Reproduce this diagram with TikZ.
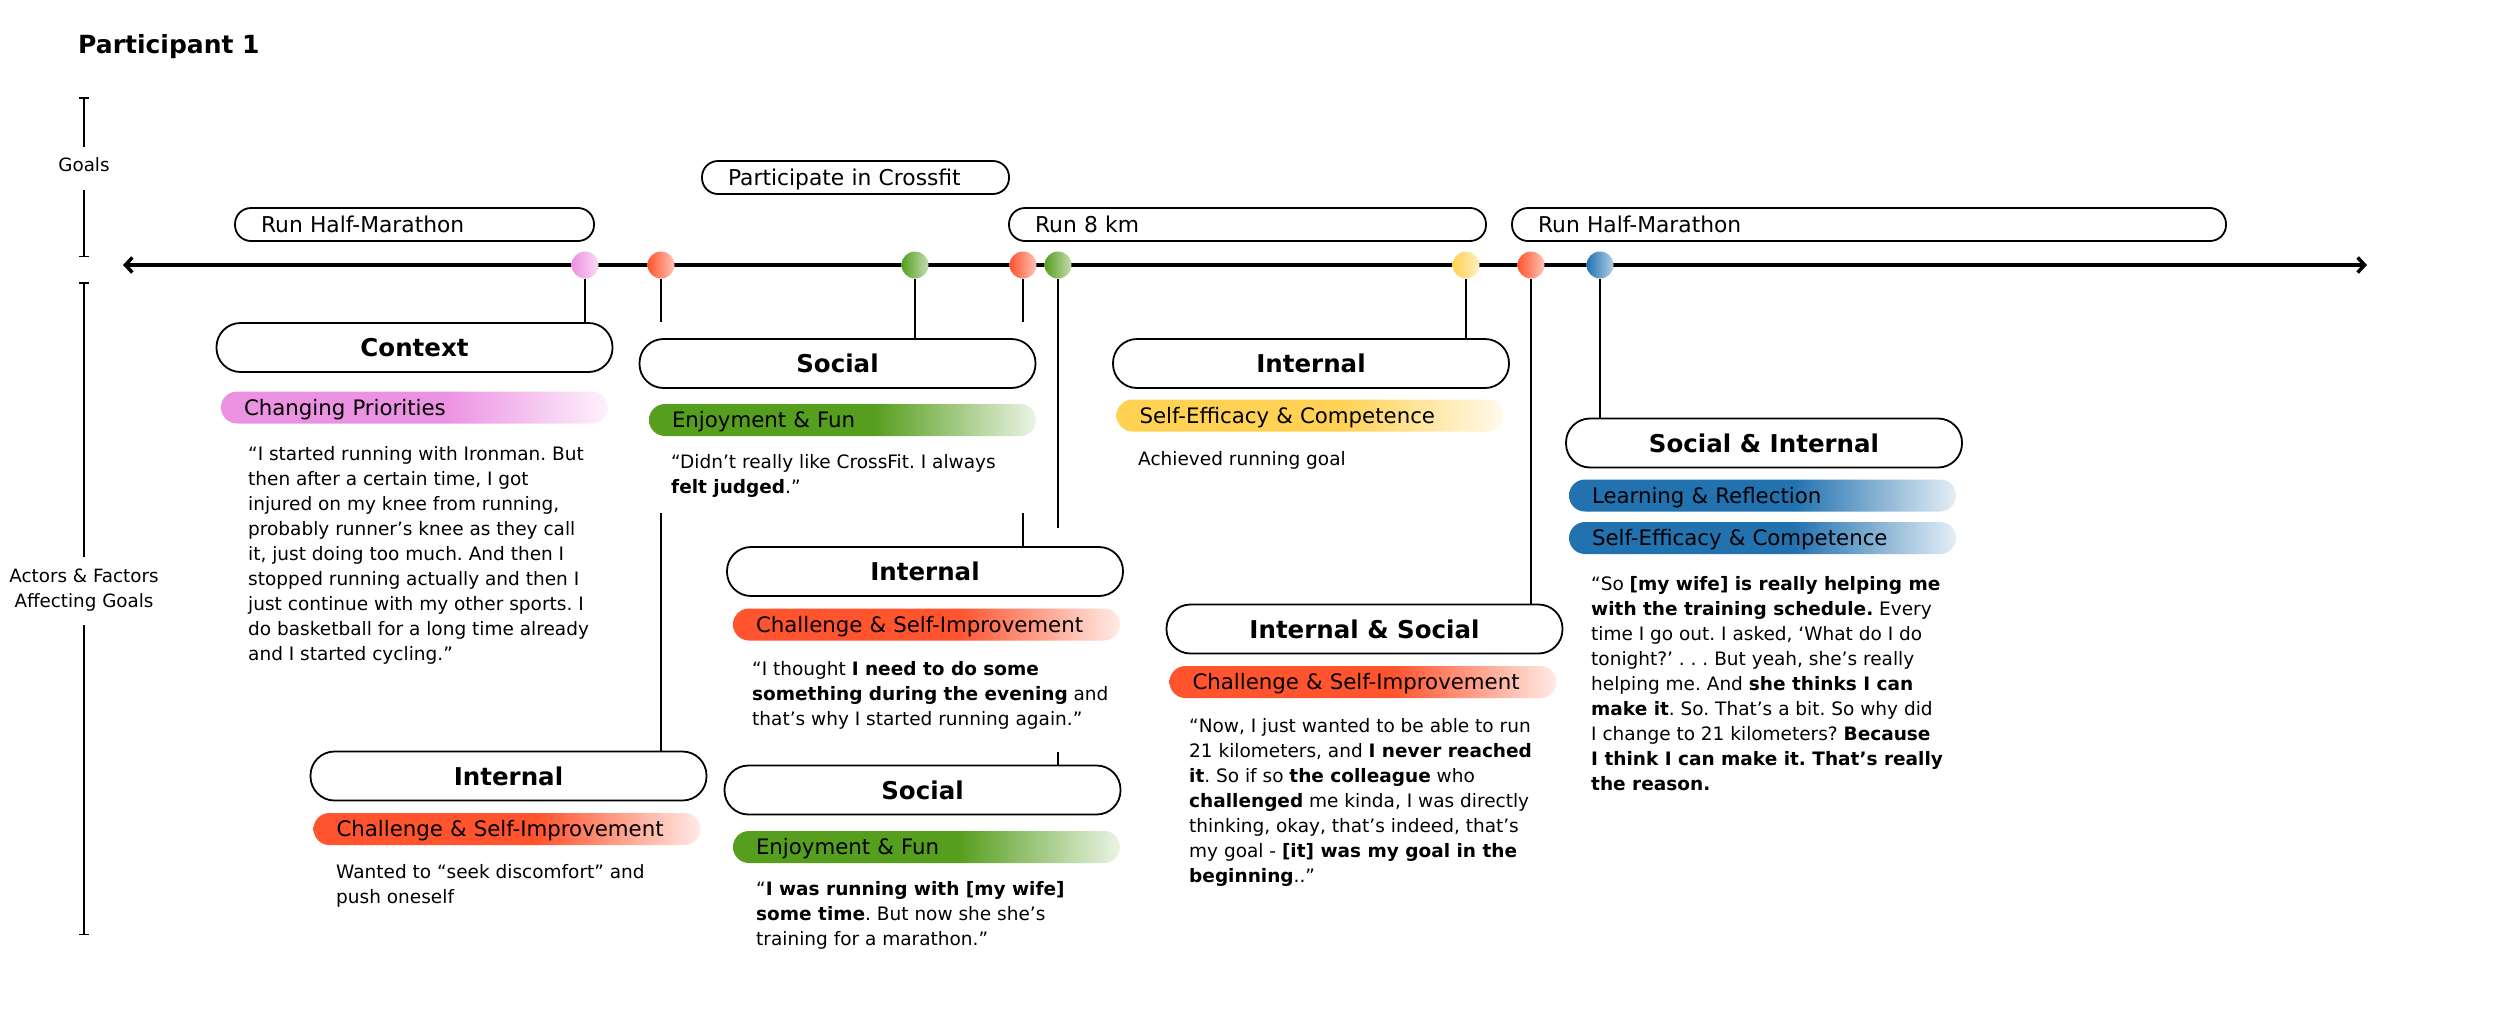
\documentclass[tikz,border=0pt]{standalone}
\usepackage{fontspec}
\setmainfont{DejaVu Sans}
\usetikzlibrary{arrows.meta}
\frenchspacing

\definecolor{pinkc}{RGB}{236,146,226}
\definecolor{redc}{RGB}{255,84,46}
\definecolor{greenc}{RGB}{86,158,30}
\definecolor{yellowc}{RGB}{255,210,84}
\definecolor{bluec}{RGB}{34,114,176}
\colorlet{barcol}{redc}
\pgfdeclarehorizontalshading[barcol]{barfade}{100bp}{color(0bp)=(barcol); color(25bp)=(barcol); color(54bp)=(barcol); color(75bp)=(barcol!12!white); color(100bp)=(barcol!12!white)}

\newcommand{\titlefont}{\fontsize{25}{30}\selectfont\bfseries}
\newcommand{\catfont}{\fontsize{24.5}{30}\selectfont\bfseries}
\newcommand{\goalfont}{\fontsize{21.8}{26}\selectfont}
\newcommand{\barfont}{\fontsize{21.3}{26}\selectfont}
\newcommand{\quotefont}{\fontsize{18.5}{25}\selectfont}
\newcommand{\axisfont}{\fontsize{18.3}{25}\selectfont}
\newcommand{\qtext}[1]{\parbox[t]{430pt}{\quotefont\frenchspacing\raggedright #1}}

\tikzset{goalbox/.style={draw, line width=1.8pt, rounded corners=16pt, minimum height=33pt, inner xsep=26pt, inner ysep=0pt, text width=#1, align=left, text height=16pt, text depth=0pt, font=\goalfont}}
\tikzset{catbox/.style={draw, line width=1.8pt, fill=white, rounded corners=24pt, minimum width=396pt, minimum height=49pt, inner sep=0pt, text height=18pt, text depth=0pt, font=\catfont}}
\tikzset{tagbar/.style={/utils/exec={\colorlet{barcol}{#1}}, shading=barfade, rounded corners=16pt, minimum height=32pt, inner xsep=23pt, inner ysep=0pt, text width=341pt, align=left, text height=15.5pt, text depth=0pt, font=\barfont}}
\tikzset{evt/.style={circle, minimum size=27pt, inner sep=0pt, left color=#1, right color=#1!35!white}}
\tikzset{stem/.style={line width=1.8pt}}
\tikzset{quotetxt/.style={anchor=base west, inner sep=0pt}}
\tikzset{axisline/.style={line width=1.5pt}}

\begin{document}
\begin{tikzpicture}[x=1pt, y=-1pt]

\path[use as bounding box, fill=white] (0,0) rectangle (2500,1020);

\node[anchor=base west, inner sep=0pt, font=\titlefont] (title) at (78,53) {Participant 1};

% left axis
\draw[axisline, {Bar[width=10pt]}-] (84,97) -- (84,147);
\node[anchor=base, inner sep=0pt, font=\axisfont] (goals) at (84,171) {Goals};
\draw[axisline, -{Bar[width=10pt]}] (84,190) -- (84,257);
\draw[axisline, {Bar[width=10pt]}-] (84,282) -- (84,557);
\node[anchor=base, inner sep=0pt] (actors) at (84,582) {\parbox[t]{200pt}{\centering\axisfont Actors \& Factors\\Affecting Goals}};
\draw[axisline, -{Bar[width=10pt]}] (84,625) -- (84,935);

% goals
\node[goalbox=307pt] (goal1) at (414.5,224.5) {Run Half-Marathon};
\node[goalbox=255pt] (goal2) at (855.5,177.5) {Participate in Crossfit};
\node[goalbox=425pt] (goal3) at (1247.5,224.5) {Run 8 km};
\node[goalbox=662pt] (goal4) at (1869,224.5) {Run Half-Marathon};

\draw[line width=3.5pt, {Straight Barb[length=7pt,width=15pt]}-{Straight Barb[length=7pt,width=15pt]}] (123,265) -- (2367,265);

\node[evt=pinkc] (d1) at (585,265) {};
\node[evt=redc] (d2) at (661,265) {};
\node[evt=greenc] (d3) at (915,265) {};
\node[evt=redc] (d4) at (1023,265) {};
\node[evt=greenc] (d5) at (1058,265) {};
\node[evt=yellowc] (d6) at (1466,265) {};
\node[evt=redc] (d7) at (1531,265) {};
\node[evt=bluec] (d8) at (1600,265) {};

\node[catbox] (ctx) at (414.5,347.5) {Context};
\node[tagbar=pinkc] (ctxbar) at (414.5,407.5) {Changing Priorities};
\node[quotetxt] (ctxq) at (248,460) {\qtext{“I started running with Ironman. But\\then after a certain time, I got\\injured on my knee from running,\\probably runner's knee as they call\\it, just doing too much. And then I\\stopped running actually and then I\\just continue with my other sports. I\\do basketball for a long time already\\and I started cycling.”}};

\node[catbox] (soc1) at (837.5,363.5) {Social};
\node[tagbar=greenc] (soc1bar) at (842.5,420) {Enjoyment \& Fun};
\node[quotetxt] (soc1q) at (671,468) {\qtext{“Didn't really like CrossFit. I always\\\textbf{felt judged}.”}};

\node[catbox] (int1) at (508.5,776) {Internal};
\node[tagbar=redc] (int1bar) at (507,829) {Challenge \& Self-Improvement};
\node[quotetxt] (int1q) at (336,878) {\qtext{Wanted to “seek discomfort” and\\push oneself}};

\node[catbox] (int2) at (925,571.5) {Internal};
\node[tagbar=redc] (int2bar) at (926.5,624.5) {Challenge \& Self-Improvement};
\node[quotetxt] (int2q) at (752,675) {\qtext{“I thought \textbf{I need to do some\\something during the evening} and\\that's why I started running again.”}};

\node[catbox] (soc2) at (922.5,790) {Social};
\node[tagbar=greenc] (soc2bar) at (926.5,847) {Enjoyment \& Fun};
\node[quotetxt] (soc2q) at (756,895) {\qtext{“\textbf{I was running with [my wife]\\some time}. But now she she's\\training for a marathon.”}};

\node[catbox] (int3) at (1311,363.5) {Internal};
\node[tagbar=yellowc] (int3bar) at (1310,415.5) {Self-Efficacy \& Competence};
\node[quotetxt] (int3q) at (1138,465) {\qtext{Achieved running goal}};

\node[catbox] (intsoc) at (1364.5,629) {Internal \& Social};
\node[tagbar=redc] (intsocbar) at (1363,682) {Challenge \& Self-Improvement};
\node[quotetxt] (intsocq) at (1189,732) {\qtext{“Now, I just wanted to be able to run\\21 kilometers, and \textbf{I never reached\\it}. So if so \textbf{the colleague} who\\\textbf{challenged} me kinda, I was directly\\thinking, okay, that's indeed, that's\\my goal - \textbf{[it] was my goal in the\\beginning}..”}};

\node[catbox] (socint) at (1764,443) {Social \& Internal};
\node[tagbar=bluec] (socintbar1) at (1762.5,495.5) {Learning \& Reflection};
\node[tagbar=bluec] (socintbar2) at (1762.5,538) {Self-Efficacy \& Competence};
\node[quotetxt] (socintq) at (1591,590) {\qtext{“So \textbf{[my wife] is really helping me\\with the training schedule.} Every\\time I go out. I asked, ‘What do I do\\tonight?’ . . . But yeah, she's really\\helping me. And \textbf{she thinks I can\\make it}. So. That's a bit. So why did\\I change to 21 kilometers? \textbf{Because\\I think I can make it. That's really\\the reason.}}};

% stems, broken where they pass behind a group
\coordinate (d2a) at (661,322);
\coordinate (d2b) at (661,513);
\coordinate (d4a) at (1023,322);
\coordinate (d4b) at (1023,513);
\coordinate (d5a) at (1058,528);
\coordinate (d5b) at (1058,752);

\draw[stem] (d1) -- (d1 |- ctx.north);
\draw[stem] (d2) -- (d2a); \draw[stem] (d2b) -- (d2 |- int1.north);
\draw[stem] (d3) -- (d3 |- soc1.north);
\draw[stem] (d4) -- (d4a); \draw[stem] (d4b) -- (d4 |- int2.north);
\draw[stem] (d5) -- (d5a); \draw[stem] (d5b) -- (d5 |- soc2.north);
\draw[stem] (d6) -- (d6 |- int3.north);
\draw[stem] (d7) -- (d7 |- intsoc.north);
\draw[stem] (d8) -- (d8 |- socint.north);

\end{tikzpicture}
\end{document}
